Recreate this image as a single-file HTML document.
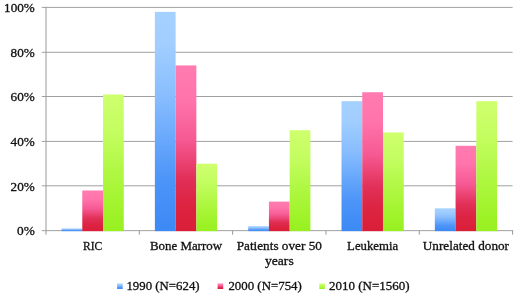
<!DOCTYPE html>
<html><head><meta charset="utf-8"><title>Chart</title>
<style>html,body{margin:0;padding:0;background:#fff}svg{display:block}text{font-family:"Liberation Serif",serif;font-size:12.5px;fill:#111;stroke:#111;stroke-width:0.3px}</style></head><body>
<svg width="520" height="298" viewBox="0 0 520 298">
<defs>
<linearGradient id="gb" x1="0" y1="0" x2="0" y2="1"><stop offset="0" stop-color="#A5D1FF"/><stop offset="0.15" stop-color="#A1CEFF"/><stop offset="0.4" stop-color="#86BCFE"/><stop offset="0.58" stop-color="#69A8FC"/><stop offset="0.77" stop-color="#4C94F8"/><stop offset="1" stop-color="#3C89F5"/></linearGradient>
<linearGradient id="gr" x1="0" y1="0" x2="0" y2="1"><stop offset="0" stop-color="#FF7BB0"/><stop offset="0.21" stop-color="#FF74AB"/><stop offset="0.45" stop-color="#F65993"/><stop offset="0.69" stop-color="#E12F57"/><stop offset="0.85" stop-color="#DC2340"/><stop offset="1" stop-color="#DA1E38"/></linearGradient>
<linearGradient id="gg" x1="0" y1="0" x2="0" y2="1"><stop offset="0" stop-color="#CFFF6E"/><stop offset="0.3" stop-color="#C2FD5E"/><stop offset="0.55" stop-color="#B1F845"/><stop offset="0.85" stop-color="#A0F32A"/><stop offset="1" stop-color="#97EF20"/></linearGradient>
</defs>
<rect width="520" height="298" fill="#fff"/>
<line x1="41.80" y1="185.80" x2="512.60" y2="185.80" stroke="#a0a0a0" stroke-width="1"/>
<line x1="41.80" y1="141.40" x2="512.60" y2="141.40" stroke="#a0a0a0" stroke-width="1"/>
<line x1="41.80" y1="96.50" x2="512.60" y2="96.50" stroke="#a0a0a0" stroke-width="1"/>
<line x1="41.80" y1="52.30" x2="512.60" y2="52.30" stroke="#a0a0a0" stroke-width="1"/>
<line x1="41.80" y1="7.40" x2="512.60" y2="7.40" stroke="#a0a0a0" stroke-width="1"/>
<line x1="41.80" y1="230.65" x2="513.10" y2="230.65" stroke="#a0a0a0" stroke-width="1"/>
<rect x="61.55" y="228.42" width="20.74" height="2.73" fill="url(#gb)"/>
<rect x="82.29" y="190.47" width="20.74" height="40.69" fill="url(#gr)"/>
<rect x="103.03" y="94.47" width="20.74" height="136.68" fill="url(#gg)"/>
<rect x="154.87" y="11.87" width="20.74" height="219.28" fill="url(#gb)"/>
<rect x="175.61" y="65.44" width="20.74" height="165.71" fill="url(#gr)"/>
<rect x="196.35" y="163.68" width="20.74" height="67.47" fill="url(#gg)"/>
<rect x="248.19" y="226.19" width="20.74" height="4.96" fill="url(#gb)"/>
<rect x="268.93" y="201.63" width="20.74" height="29.52" fill="url(#gr)"/>
<rect x="289.67" y="130.19" width="20.74" height="100.96" fill="url(#gg)"/>
<rect x="341.51" y="101.16" width="20.74" height="129.99" fill="url(#gb)"/>
<rect x="362.25" y="92.24" width="20.74" height="138.91" fill="url(#gr)"/>
<rect x="382.99" y="132.42" width="20.74" height="98.73" fill="url(#gg)"/>
<rect x="434.83" y="208.33" width="20.74" height="22.82" fill="url(#gb)"/>
<rect x="455.57" y="145.81" width="20.74" height="85.33" fill="url(#gr)"/>
<rect x="476.31" y="101.16" width="20.74" height="129.99" fill="url(#gg)"/>
<line x1="46.00" y1="6.90" x2="46.00" y2="234.65" stroke="#999999" stroke-width="1"/>
<line x1="139.32" y1="230.65" x2="139.32" y2="234.65" stroke="#999999" stroke-width="1"/>
<line x1="232.64" y1="230.65" x2="232.64" y2="234.65" stroke="#999999" stroke-width="1"/>
<line x1="325.96" y1="230.65" x2="325.96" y2="234.65" stroke="#999999" stroke-width="1"/>
<line x1="419.28" y1="230.65" x2="419.28" y2="234.65" stroke="#999999" stroke-width="1"/>
<line x1="512.60" y1="230.65" x2="512.60" y2="234.65" stroke="#999999" stroke-width="1"/>
<text x="34.8" y="235.35" text-anchor="end" textLength="17.8" lengthAdjust="spacingAndGlyphs">0%</text>
<text x="34.8" y="190.50" text-anchor="end" textLength="24.2" lengthAdjust="spacingAndGlyphs">20%</text>
<text x="34.8" y="146.10" text-anchor="end" textLength="24.2" lengthAdjust="spacingAndGlyphs">40%</text>
<text x="34.8" y="101.20" text-anchor="end" textLength="24.2" lengthAdjust="spacingAndGlyphs">60%</text>
<text x="34.8" y="57.00" text-anchor="end" textLength="24.2" lengthAdjust="spacingAndGlyphs">80%</text>
<text x="34.8" y="12.10" text-anchor="end" textLength="30.7" lengthAdjust="spacingAndGlyphs">100%</text>
<text x="92.66" y="250.30" text-anchor="middle" textLength="19.3" lengthAdjust="spacingAndGlyphs">RIC</text>
<text x="185.98" y="250.30" text-anchor="middle" textLength="72.0" lengthAdjust="spacingAndGlyphs">Bone Marrow</text>
<text x="279.30" y="250.30" text-anchor="middle" textLength="85.2" lengthAdjust="spacingAndGlyphs">Patients over 50</text>
<text x="279.30" y="264.50" text-anchor="middle" textLength="28.8" lengthAdjust="spacingAndGlyphs">years</text>
<text x="372.62" y="250.30" text-anchor="middle" textLength="51" lengthAdjust="spacingAndGlyphs">Leukemia</text>
<text x="465.94" y="250.30" text-anchor="middle" textLength="86.2" lengthAdjust="spacingAndGlyphs">Unrelated donor</text>
<rect x="117.1" y="283.5" width="5.6" height="5.5" fill="url(#gb)"/>
<text x="126.4" y="289.9" textLength="73.2" lengthAdjust="spacingAndGlyphs">1990 (N=624)</text>
<rect x="217.6" y="283.5" width="5.6" height="5.5" fill="url(#gr)"/>
<text x="228.4" y="289.9" textLength="73.4" lengthAdjust="spacingAndGlyphs">2000 (N=754)</text>
<rect x="319.3" y="283.5" width="5.6" height="5.5" fill="url(#gg)"/>
<text x="329" y="289.9" textLength="80.5" lengthAdjust="spacingAndGlyphs">2010 (N=1560)</text>
</svg></body></html>
